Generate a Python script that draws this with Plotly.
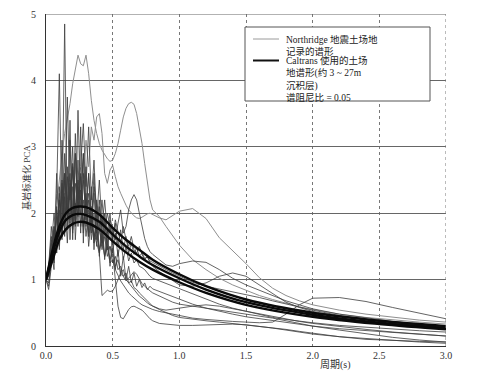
import plotly.graph_objects as go

# ---------------- data ----------------
periods = [0.00, 0.02, 0.04, 0.06, 0.08, 0.10, 0.12, 0.14, 0.16, 0.18,
           0.20, 0.22, 0.24, 0.26, 0.28, 0.30, 0.32, 0.34, 0.36, 0.38,
           0.40, 0.42, 0.44, 0.46, 0.48, 0.50, 0.52, 0.54, 0.56, 0.58,
           0.60, 0.62, 0.64, 0.66, 0.68, 0.70, 0.72, 0.74, 0.76, 0.78,
           0.80, 0.85, 0.90, 0.95, 1.00, 1.10, 1.20, 1.30, 1.40, 1.50,
           1.60, 1.70, 1.80, 1.90, 2.00, 2.20, 2.40, 2.60, 2.80, 3.00]

nr1 = [1.00, 1.08, 1.45, 1.15, 2.30, 4.10, 1.90, 4.85, 1.75, 3.40, 1.60, 2.90, 1.80, 3.30, 1.55, 2.70, 1.65, 2.40, 1.45, 2.20,
       1.35, 1.95, 1.30, 1.75, 1.20, 1.60, 1.15, 1.45, 1.05, 1.35, 1.00, 1.20, 0.95, 1.10, 0.90, 1.00, 0.88, 0.95, 0.85, 0.90,
       0.86, 0.82, 0.78, 0.74, 0.70, 0.63, 0.57, 0.52, 0.48, 0.44, 0.41, 0.38, 0.35, 0.32, 0.30, 0.26, 0.23, 0.20, 0.18, 0.15]
nr2 = [1.00, 1.10, 1.30, 1.70, 2.10, 2.60, 2.90, 3.20, 3.40, 3.65, 3.95, 4.20, 4.38, 4.25, 4.22, 4.38, 4.10, 3.70, 3.40, 3.20,
       3.05, 2.95, 2.88, 2.82, 2.78, 2.80, 2.90, 3.05, 3.25, 3.45, 3.58, 3.65, 3.67, 3.64, 3.50, 3.30, 3.05, 2.75, 2.45, 2.20,
       2.05, 1.95, 1.80, 1.65, 1.52, 1.30, 1.15, 1.02, 0.92, 0.84, 0.76, 0.70, 0.64, 0.59, 0.55, 0.48, 0.43, 0.39, 0.36, 0.33]
nr3 = [1.00, 1.05, 1.25, 1.60, 1.40, 2.00, 1.70, 2.30, 1.90, 2.50, 2.10, 2.80, 2.30, 3.00, 2.50, 3.10, 2.70, 3.30, 3.10, 3.45,
       3.50, 3.20, 2.60, 2.45, 2.65, 2.72, 2.55, 2.40, 2.30, 2.20, 2.12, 2.05, 2.00, 1.96, 1.93, 1.92, 1.94, 1.97, 1.99, 2.00,
       1.98, 1.93, 1.90, 1.96, 2.03, 2.07, 1.92, 1.63, 1.44, 1.24, 1.03, 0.87, 0.76, 0.68, 0.62, 0.54, 0.48, 0.43, 0.39, 0.36]
nr4 = [1.00, 0.90, 1.30, 1.80, 1.50, 2.40, 1.70, 2.90, 2.00, 3.10, 1.80, 3.20, 2.20, 2.70, 3.35, 2.40, 3.30, 2.20, 2.80, 1.90,
       2.50, 1.80, 2.20, 1.70, 2.00, 1.60, 1.85, 1.50, 1.75, 1.45, 1.65, 1.40, 1.55, 1.38, 1.48, 1.35, 1.40, 1.32, 1.34, 1.28,
       1.26, 1.20, 1.15, 1.10, 1.05, 0.96, 0.90, 0.86, 0.82, 0.78, 0.73, 0.68, 0.63, 0.58, 0.54, 0.46, 0.40, 0.35, 0.31, 0.28]
nr5 = [1.00, 1.15, 1.60, 1.30, 2.10, 1.50, 2.50, 1.70, 2.70, 1.60, 2.40, 1.90, 2.80, 1.70, 2.50, 2.00, 2.30, 1.80, 2.60, 1.70,
       2.20, 1.60, 2.00, 1.55, 1.90, 1.75, 1.60, 1.85, 2.05, 1.70, 1.80, 2.05, 2.20, 2.28, 2.20, 2.00, 1.80, 1.62, 1.50, 1.42,
       1.38, 1.30, 1.22, 1.20, 1.24, 1.28, 1.26, 1.15, 1.02, 0.92, 0.84, 0.76, 0.68, 0.62, 0.56, 0.48, 0.42, 0.37, 0.33, 0.30]
nr6 = [1.00, 0.85, 1.20, 1.70, 1.40, 2.20, 1.60, 2.60, 1.90, 2.40, 1.70, 2.90, 2.00, 2.60, 1.80, 2.30, 1.70, 2.10, 1.60, 1.90,
       1.75, 1.55, 1.70, 1.45, 1.50, 1.40, 1.00, 0.60, 0.43, 0.41, 0.48, 0.55, 0.59, 0.60, 0.58, 0.56, 0.54, 0.50, 0.45, 0.41,
       0.38, 0.34, 0.33, 0.32, 0.31, 0.31, 0.32, 0.33, 0.33, 0.32, 0.30, 0.27, 0.24, 0.21, 0.18, 0.14, 0.11, 0.08, 0.06, 0.04]
nr7 = [1.00, 1.12, 1.55, 1.25, 1.95, 1.45, 2.35, 1.65, 2.55, 1.85, 2.75, 1.60, 2.35, 1.80, 2.20, 1.65, 2.05, 1.80, 1.70, 1.55,
       1.40, 0.76, 0.80, 0.84, 0.82, 0.83, 0.90, 1.00, 1.10, 1.05, 0.98, 1.02, 1.08, 1.12, 1.08, 1.00, 0.94, 0.90, 0.86, 0.83,
       0.80, 0.75, 0.70, 0.66, 0.63, 0.60, 0.58, 0.55, 0.52, 0.49, 0.46, 0.42, 0.38, 0.34, 0.30, 0.24, 0.18, 0.13, 0.09, 0.06]
nr8 = [1.00, 1.20, 1.65, 1.35, 2.05, 1.60, 2.45, 1.85, 2.20, 2.60, 1.90, 2.45, 2.10, 2.35, 1.80, 2.10, 1.65, 1.90, 1.55, 1.75,
       1.45, 1.60, 1.35, 1.50, 1.25, 1.30, 1.15, 1.05, 0.98, 0.92, 0.85, 0.80, 0.76, 0.72, 0.68, 0.65, 0.62, 0.60, 0.58, 0.56,
       0.55, 0.52, 0.50, 0.47, 0.45, 0.42, 0.40, 0.38, 0.37, 0.36, 0.35, 0.36, 0.48, 0.62, 0.72, 0.73, 0.67, 0.58, 0.49, 0.41]
nr9 = [1.00, 1.10, 1.50, 2.00, 1.60, 2.30, 1.80, 2.60, 2.10, 1.90, 2.70, 2.00, 2.50, 2.20, 2.90, 2.10, 2.60, 1.90, 2.40, 2.10,
       1.80, 2.20, 1.70, 2.00, 1.80, 1.60, 1.90, 1.70, 1.55, 1.80, 1.60, 1.50, 1.65, 1.45, 1.40, 1.50, 1.38, 1.30, 1.35, 1.25,
       1.20, 1.12, 1.05, 0.98, 0.92, 0.90, 0.95, 1.05, 1.10, 1.05, 0.92, 0.78, 0.66, 0.58, 0.52, 0.45, 0.40, 0.36, 0.32, 0.28]
nr10 = [1.00, 0.95, 1.35, 1.75, 1.45, 2.05, 1.65, 2.25, 1.55, 2.45, 1.75, 2.15, 1.95, 2.55, 1.70, 2.20, 1.50, 1.95, 1.65, 1.80,
        1.40, 1.70, 1.35, 1.55, 1.30, 1.45, 1.20, 1.30, 1.10, 1.15, 1.00, 0.95, 0.90, 0.85, 0.80, 0.75, 0.72, 0.68, 0.65, 0.62,
        0.60, 0.56, 0.54, 0.55, 0.57, 0.60, 0.62, 0.60, 0.56, 0.52, 0.48, 0.44, 0.40, 0.37, 0.34, 0.29, 0.25, 0.21, 0.18, 0.15]
nr11 = [1.00, 1.20, 1.80, 1.40, 2.60, 1.70, 3.10, 2.00, 3.75, 2.20, 3.00, 1.80, 3.55, 2.10, 2.90, 1.90, 2.60, 1.70, 2.30, 1.60,
        2.10, 1.50, 1.90, 1.45, 1.80, 1.40, 1.70, 1.35, 1.60, 1.30, 1.50, 1.28, 1.40, 1.25, 1.30, 1.20, 1.18, 1.15, 1.10, 1.05,
        1.02, 0.98, 0.94, 0.90, 0.86, 0.78, 0.70, 0.63, 0.57, 0.52, 0.47, 0.43, 0.40, 0.37, 0.35, 0.31, 0.28, 0.25, 0.23, 0.21]
nr12 = [1.00, 1.05, 1.40, 1.80, 1.50, 2.20, 1.75, 2.50, 1.95, 2.30, 2.65, 1.85, 2.40, 2.00, 2.60, 1.80, 2.20, 1.60, 2.00, 1.50,
        1.80, 1.45, 1.65, 1.35, 1.50, 1.25, 1.35, 1.15, 1.20, 1.05, 1.10, 0.95, 0.98, 0.88, 0.85, 0.80, 0.76, 0.72, 0.68, 0.64,
        0.60, 0.55, 0.50, 0.46, 0.43, 0.40, 0.38, 0.36, 0.34, 0.32, 0.30, 0.28, 0.25, 0.22, 0.19, 0.14, 0.10, 0.08, 0.07, 0.06]

northridge = [nr1, nr2, nr3, nr4, nr5, nr6, nr7, nr8, nr9, nr10, nr11, nr12]
light_ids = [1, 2]  # lighter (dotted-looking) records

ct_periods = [0.00, 0.05, 0.10, 0.15, 0.20, 0.25, 0.30, 0.40, 0.50, 0.60,
              0.70, 0.80, 1.00, 1.20, 1.50, 2.00, 2.50, 3.00]
ct_upper = [1.00, 1.45, 1.80, 2.00, 2.08, 2.10, 2.09, 1.98, 1.78, 1.60, 1.45, 1.30, 1.08, 0.90, 0.70, 0.50, 0.38, 0.30]
ct_middle = [1.00, 1.40, 1.72, 1.90, 1.97, 1.99, 1.97, 1.87, 1.68, 1.50, 1.35, 1.22, 1.02, 0.85, 0.66, 0.47, 0.35, 0.27]
ct_lower = [1.00, 1.30, 1.60, 1.76, 1.84, 1.87, 1.86, 1.76, 1.58, 1.41, 1.27, 1.15, 0.96, 0.80, 0.62, 0.44, 0.33, 0.25]
caltrans = [ct_upper, ct_middle, ct_lower]

x_ticks = [0.0, 0.5, 1.0, 1.5, 2.0, 2.5, 3.0]
x_tick_text = ["0.0", "0.5", "1.0", "1.5", "2.0", "2.5", "3.0"]
y_ticks = [0, 1, 2, 3, 4, 5]

legend_nr = ["Northridge 地震土场地", "记录的谱形"]
legend_ct = ["Caltrans 使用的土场", "地谱形(约 3 ~ 27m", "沉积层)", "谱阻尼比 = 0.05"]
x_title = "周期(s)"
y_title = "基岩标准化 PCA"

# ---------------- geometry (page pixels; the page body adds an 8px offset) ----------------
OFF = 8
W, H = 489 - OFF, 374 - OFF
PL, PR, PT, PB = 46, 446, 14, 346          # plot box in page pixels


def px(xp):
    return (xp - PL) / (PR - PL)


def py(yp):
    return (PB - yp) / (PB - PT)


SERIF = "Liberation Serif, DejaVu Serif, Noto Sans CJK SC"
CJK = "Liberation Serif, Noto Sans CJK SC"

fig = go.Figure()
for i, ys in enumerate(northridge):
    light = i in light_ids
    fig.add_trace(go.Scatter(
        x=periods, y=ys, mode="lines",
        line=dict(color="#8f8f8f" if light else "#3c3c3c", width=1.0 if light else 0.8),
        showlegend=False, hoverinfo="skip"))
for ys in caltrans:
    fig.add_trace(go.Scatter(
        x=ct_periods, y=ys, mode="lines",
        line=dict(color="#0a0a0a", width=2.4, shape="spline", smoothing=1.0),
        showlegend=False, hoverinfo="skip"))

fig.update_layout(
    width=W, height=H,
    margin=dict(l=PL - OFF, r=W - (PR - OFF), t=PT - OFF, b=H - (PB - OFF), autoexpand=False),
    paper_bgcolor="white", plot_bgcolor="white",
    font=dict(family=SERIF, size=11, color="#222"),
    xaxis=dict(range=[0, 3], tickvals=x_ticks, ticktext=x_tick_text, automargin=False,
               showgrid=True, gridcolor="#777", griddash="dot", gridwidth=1,
               showline=True, linecolor="#333", linewidth=1.2,
               ticks="", zeroline=False, ticklabelstandoff=0, ticklabeloverflow="allow",
               tickfont=dict(family=SERIF, size=10, color="#333")),
    yaxis=dict(range=[0, 5], tickvals=y_ticks, automargin=False,
               showgrid=True, gridcolor="#666", gridwidth=1,
               showline=True, linecolor="#333", linewidth=1.2,
               ticks="", zeroline=False, ticklabelstandoff=7, ticklabeloverflow="allow",
               tickfont=dict(family=SERIF, size=10, color="#333")),
)

shapes = [
    dict(type="line", xref="x", yref="y", x0=0, x1=3, y0=5, y1=5,
         line=dict(color="#666", width=1.2), layer="above"),
    dict(type="line", xref="x", yref="y", x0=3, x1=3, y0=0, y1=5,
         line=dict(color="#777", width=1, dash="dot"), layer="above"),
    dict(type="rect", xref="paper", yref="paper",
         x0=px(245), x1=px(430), y0=py(101), y1=py(27),
         fillcolor="white", line=dict(color="#555", width=1), layer="above"),
    dict(type="line", xref="paper", yref="paper",
         x0=px(253), x1=px(279), y0=py(39), y1=py(39),
         line=dict(color="#9a9a9a", width=1), layer="above"),
    dict(type="line", xref="paper", yref="paper",
         x0=px(253), x1=px(279), y0=py(60.5), y1=py(60.5),
         line=dict(color="#111", width=2), layer="above"),
]
fig.update_layout(shapes=shapes)

annotations = [
    dict(xref="paper", yref="paper", x=px(285), y=py(33),
         text="<br>".join(legend_nr), showarrow=False, align="left",
         xanchor="left", yanchor="top", borderpad=0,
         font=dict(family=CJK, size=9.5, color="#222")),
    dict(xref="paper", yref="paper", x=px(285), y=py(54.5),
         text="<br>".join(legend_ct), showarrow=False, align="left",
         xanchor="left", yanchor="top", borderpad=0,
         font=dict(family=CJK, size=9.5, color="#222")),
    dict(xref="paper", yref="paper", x=px(335), y=py(365),
         text=x_title, showarrow=False, xanchor="center", yanchor="middle",
         font=dict(family=CJK, size=10, color="#333")),
    dict(xref="paper", yref="paper", x=px(26), y=py(178),
         text=y_title, showarrow=False, textangle=-90,
         xanchor="center", yanchor="middle",
         font=dict(family=CJK, size=9, color="#333")),
]
fig.update_layout(annotations=annotations)

fig.write_html("out.html")
